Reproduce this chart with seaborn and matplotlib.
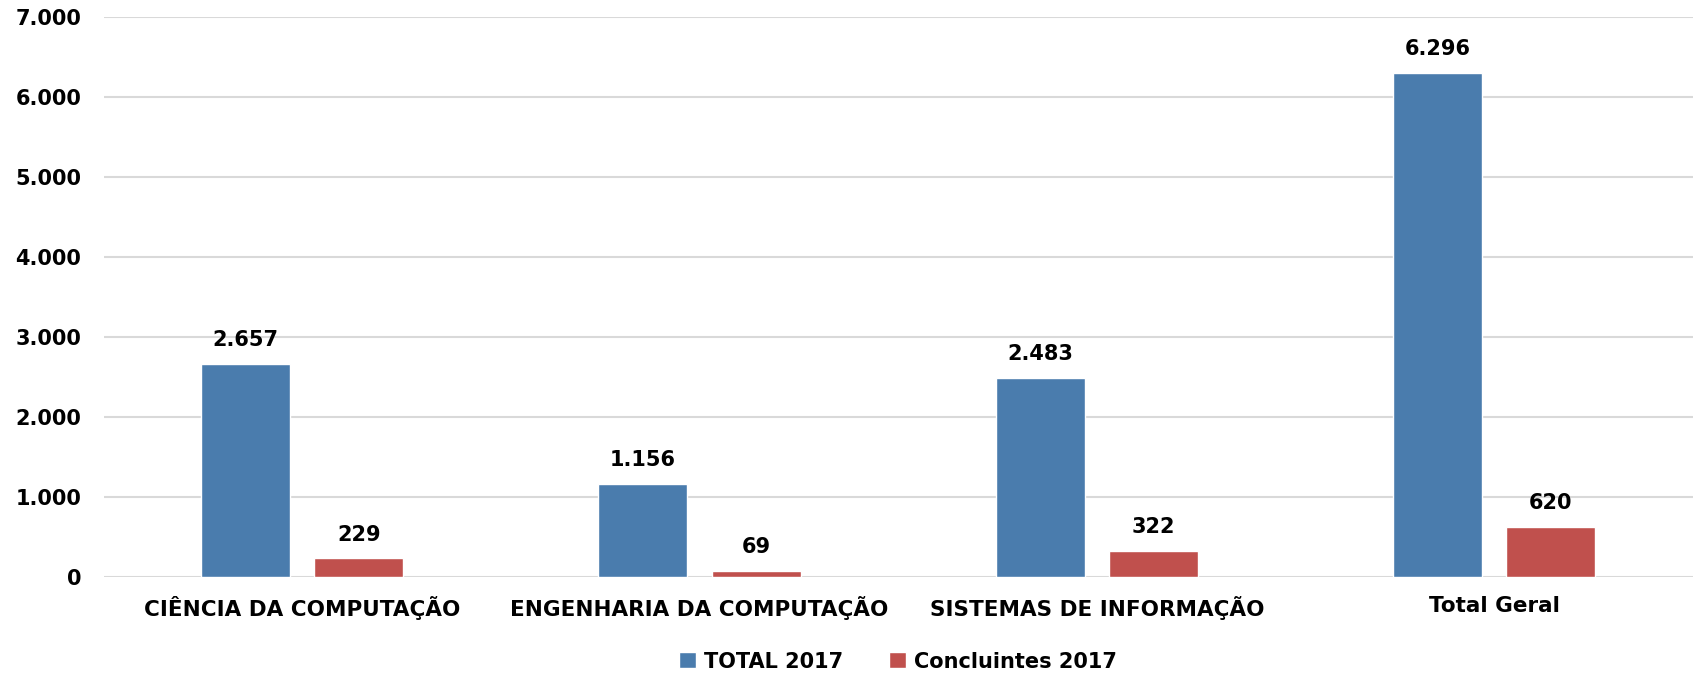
import pandas as pd
import matplotlib.pyplot as plt
import seaborn as sns
from matplotlib.ticker import FuncFormatter

cursos = ["CIÊNCIA DA COMPUTAÇÃO", "ENGENHARIA DA COMPUTAÇÃO",
          "SISTEMAS DE INFORMAÇÃO", "Total Geral"]
total_2017 = [2657, 1156, 2483, 6296]
concluintes_2017 = [229, 69, 322, 620]
series = ["TOTAL 2017", "Concluintes 2017"]
cores = ["#4A7CAD", "#C0504D"]

df = pd.DataFrame({
    "curso": cursos * 2,
    "serie": [series[0]] * 4 + [series[1]] * 4,
    "valor": total_2017 + concluintes_2017,
})

sns.set_style("white")
plt.rcParams["font.family"] = ["DejaVu Sans"]
plt.rcParams["font.weight"] = "bold"
plt.rcParams["text.color"] = "black"


def fmt_milhar(v):
    return f"{int(round(v)):,}".replace(",", ".")


fig, ax = plt.subplots(figsize=(16.98, 6.73), dpi=100)
fig.subplots_adjust(left=0.061, right=0.997, top=0.975, bottom=0.143)

sns.barplot(data=df, x="curso", y="valor", hue="serie", palette=cores,
            width=0.57, gap=0.214, ax=ax, saturation=1)

for cont in ax.containers:
    ax.bar_label(cont, labels=[fmt_milhar(v) for v in cont.datavalues],
                 padding=10, fontsize=15, fontweight="bold", color="black")

ax.set_ylim(0, 7000)
ax.set_yticks(range(0, 7001, 1000))
ax.yaxis.set_major_formatter(FuncFormatter(lambda v, p: fmt_milhar(v)))
ax.grid(axis="y", color="#d9d9d9", linewidth=1.5)
ax.set_axisbelow(True)
sns.despine(ax=ax, left=True, bottom=True)
ax.tick_params(axis="both", length=0, labelsize=15, labelcolor="black")
ax.tick_params(axis="y", pad=16)
ax.tick_params(axis="x", pad=14)
ax.set_xticks(range(len(cursos)))
ax.set_xticklabels(cursos, fontweight="bold", fontsize=15.5)
for t in ax.get_yticklabels():
    t.set_fontweight("bold")
ax.set_xlabel("")
ax.set_ylabel("")

leg = ax.legend(loc="upper center", bbox_to_anchor=(0.5, -0.1), ncol=2,
                frameon=False, handlelength=0.8, handleheight=0.8,
                handletextpad=0.4, columnspacing=2.2,
                prop={"weight": "bold", "size": 15})
for t in leg.get_texts():
    t.set_color("black")

plt.savefig("out.png")
